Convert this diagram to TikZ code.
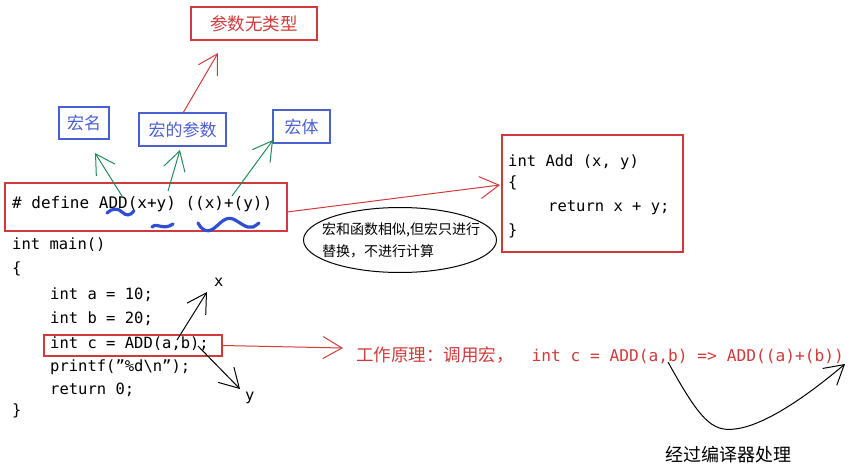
\documentclass[tikz,border=0pt]{standalone}
\usepackage{fontspec}
\setmainfont{DejaVu Sans Mono}
\newfontfamily\cjk{Noto Sans CJK SC}
\usetikzlibrary{arrows.meta,shapes.geometric}
\definecolor{myred}{HTML}{D03A3A}
\definecolor{myblue}{HTML}{4A5FD0}
\definecolor{mygreen}{HTML}{1E8C5A}
\definecolor{sqblue}{HTML}{2F4FD0}
\tikzset{
  redbox/.style={draw=myred, line width=1.1pt, inner sep=0pt},
  bluebox/.style={draw=myblue, line width=1.1pt, inner sep=0pt, text=myblue, font=\cjk\fontsize{17}{20}\selectfont},
  tip/.style={-{Straight Barb[length=19pt,width=22pt]}},
  garrow/.style={tip, draw=mygreen, line width=1pt},
  rarrow/.style={tip, draw=myred, line width=1pt},
  karrow/.style={tip, draw=black, line width=1pt},
  code/.style={anchor=west, inner sep=0pt, font=\fontsize{15.5}{18}\selectfont},
  squig/.style={draw=sqblue, line width=3.2pt, line cap=round},
}
\begin{document}
\begin{tikzpicture}[x=1pt,y=-1pt]
\useasboundingbox (0,0) rectangle (852,471);
% top label
\node[redbox, minimum width=126pt, minimum height=33pt, text=myred, font=\cjk\fontsize{17.5}{20}\selectfont] (types) at (254,23.5) {参数无类型};
% blue labels
\node[bluebox, minimum width=50pt, minimum height=32pt] (name) at (84,123) {宏名};
\node[bluebox, minimum width=87pt, minimum height=33pt] (params) at (182.5,129.5) {宏的参数};
\node[bluebox, minimum width=57pt, minimum height=33pt] (body) at (301.5,126.5) {宏体};
% define box
\node[redbox, minimum width=282pt, minimum height=48pt] (def) at (146,207) {};
\node[code, font=\fontsize{16}{20}\selectfont] (deftext) at (12,204) {\# define ADD(x+y) ((x)+(y))};
% squiggles
\draw[squig] (107,213) .. controls (112,208) and (118,208) .. (122,212) .. controls (126,216) and (130,216) .. (134,211);
\draw[squig] (152,227) .. controls (157,222) and (163,231) .. (173,224);
\draw[squig] (198,223) .. controls (202,230) and (206,233) .. (213,229) .. controls (220,224) and (225,216) .. (233,219) .. controls (240,222) and (246,229) .. (253,227) .. controls (256,226) and (257,224) .. (259,223);
% green arrows
\coordinate (g1s) at (122,196); \coordinate (g1e) at (95,153);
\coordinate (g2s) at (168,191); \coordinate (g2e) at (180,150);
\coordinate (g3s) at (232,196); \coordinate (g3e) at (273,140);
\draw[garrow] (g1s) -- (g1e);
\draw[garrow] (g2s) -- (g2e);
\draw[garrow] (g3s) -- (g3e);
% params to types
\coordinate (p1) at (183,113); \coordinate (p2) at (218,53);
\draw[rarrow] (p1) -- (p2);
% code
\node[code] (l1) at (12,245) {int main()};
\node[code] (l2) at (12,269) {\{};
\node[code] (l3) at (50,295) {int a = 10;};
\node[code] (l4) at (50,319) {int b = 20;};
\node[code] (l5) at (50,344) {int c = ADD(a,b);};
\node[code] (l6) at (50,367) {printf("\%d\textbackslash n");};
\node[code] (l7) at (50,390) {return 0;};
\node[code] (l8) at (12,411) {\}};
\node[redbox, minimum width=178pt, minimum height=21pt] (cbox) at (133,345.5) {};
% x / y arrows
\coordinate (xs) at (177,340); \coordinate (xe) at (207,292);
\coordinate (ys) at (198,346); \coordinate (ye) at (240,389);
\draw[karrow] (xs) -- (xe);
\draw[karrow] (ys) -- (ye);
\node[code] (xl) at (214,282) {x};
\node[code] (yl) at (245,398) {y};
% work principle
\coordinate (wp) at (343,348);
\draw[rarrow] (cbox.east) -- (wp);
\node[anchor=west, inner sep=0pt, text=myred] (work) at (356,355) {{\cjk\fontsize{17.5}{20}\selectfont 工作原理：调用宏，}\hspace{18pt}{\fontsize{16.2}{18}\selectfont int c = ADD(a,b) => ADD((a)+(b))}};
\coordinate (cs) at (668,362); \coordinate (ce) at (845,364);
\draw[karrow] (cs) .. controls (700,420) and (712,432) .. (735,429) .. controls (770,425) and (820,385) .. (ce);
\node[inner sep=0pt, font=\cjk\fontsize{18}{20}\selectfont] (comp) at (728,455) {经过编译器处理};
% function box
\node[redbox, minimum width=181pt, minimum height=117pt] (fn) at (592.5,193.5) {};
\node[code] (f1) at (508,162) {int Add (x, y)};
\node[code] (f2) at (508,183) {\{};
\node[code] (f3) at (548,208) {return x + y;};
\node[code] (f4) at (508,231) {\}};
\coordinate (ds) at (287,212); \coordinate (de) at (500,185);
\draw[rarrow] (ds) -- (de);
% ellipse note
\node[draw=black, line width=1pt, ellipse, minimum width=193pt, minimum height=65pt, inner sep=0pt] (note) at (400,240) {};
\node[anchor=west, inner sep=0pt, align=left, font=\cjk\fontsize{14}{22}\selectfont] (notetext) at (322,240) {宏和函数相似,但宏只进行\\替换，不进行计算};
\end{tikzpicture}
\end{document}
